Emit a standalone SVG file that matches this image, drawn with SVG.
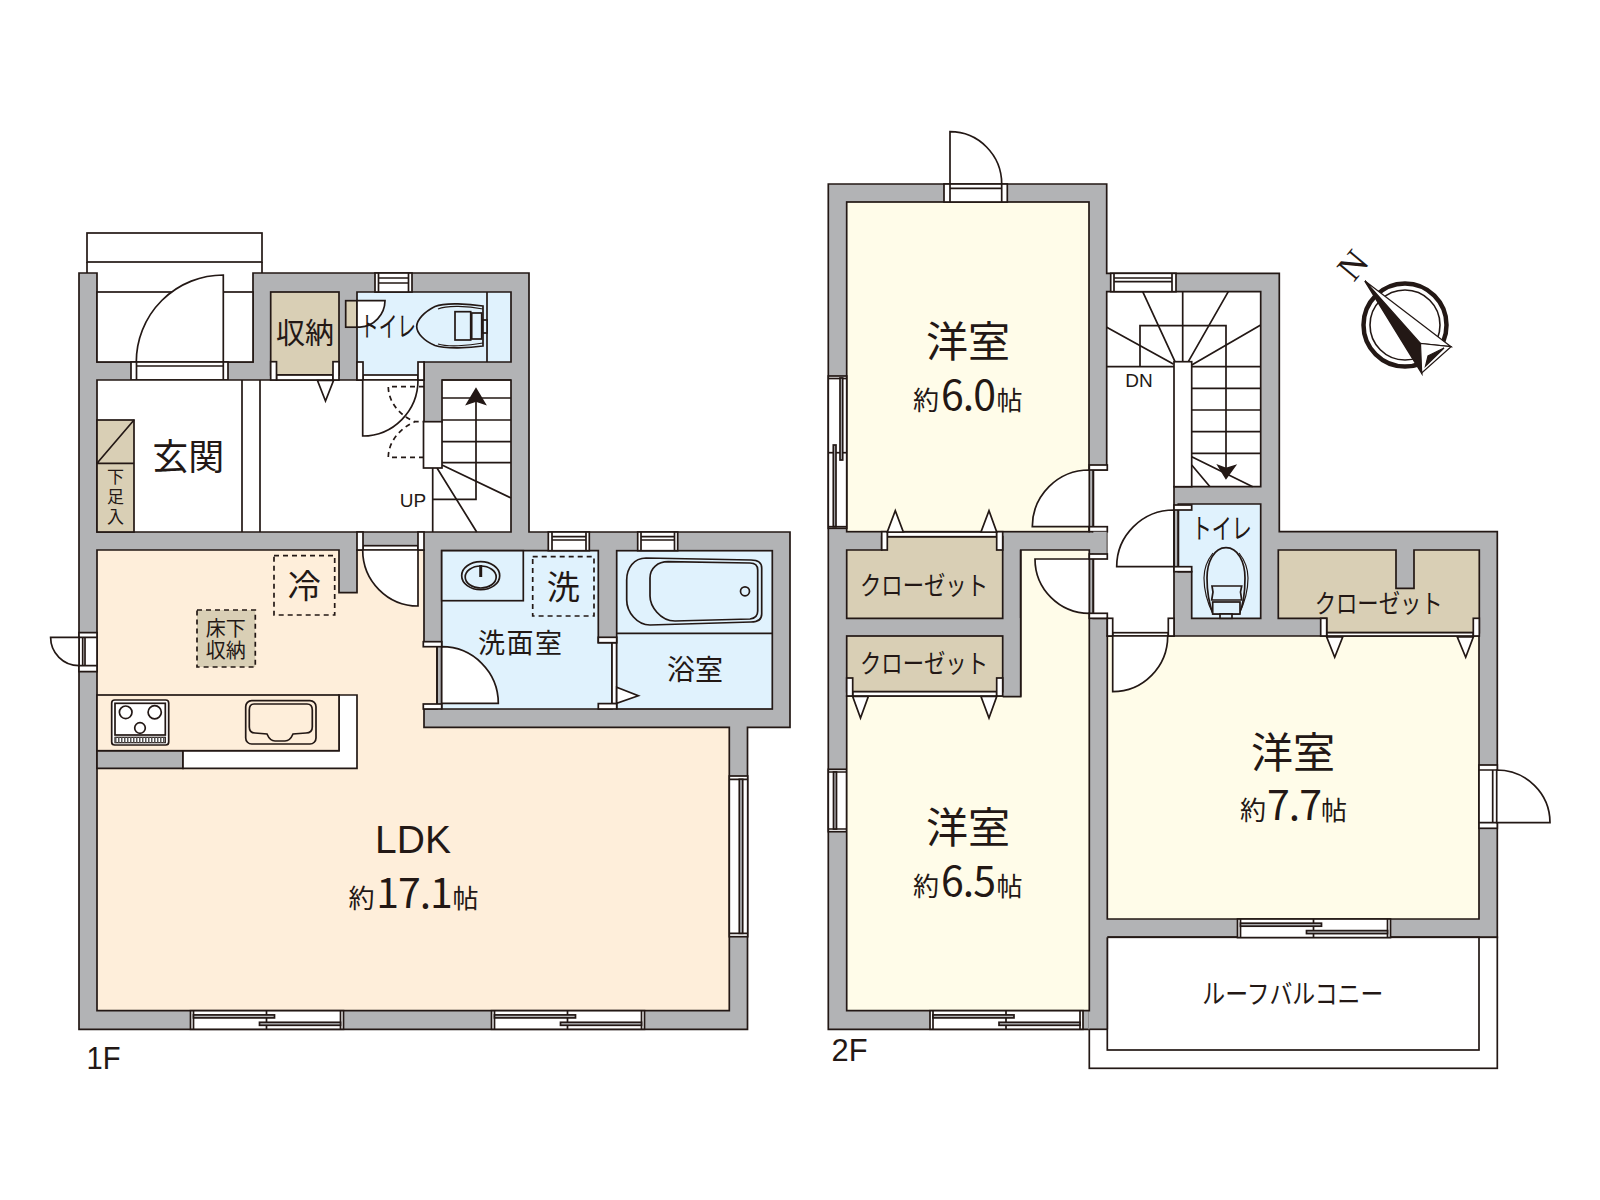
<svg xmlns="http://www.w3.org/2000/svg" xmlns:xlink="http://www.w3.org/1999/xlink" width="1600" height="1200" viewBox="0 0 1600 1200">
<style>
rect,path,circle,ellipse,line,polygon{stroke:#231815;stroke-width:1.7;stroke-linejoin:miter}
.g{fill:#b2b3b5}.w{fill:#fff}.n{fill:none}.t{fill:#d9cfb5}.b{fill:#e0f2fd}.o{fill:#feeeda}.y{fill:#fffce9}
.k{fill:#231815}
.d{fill:none;stroke-dasharray:5 4}
.thin{stroke-width:1.2}
text{font-family:"Noto Sans CJK JP","Noto Sans",sans-serif;fill:#231815;text-anchor:middle}
.s{font-family:"Liberation Sans",Arial,sans-serif}
</style>
<defs>
<g id="slide">
<rect class="w" width="153" height="18.6"/>
<line x1="3" y1="0" x2="3" y2="18.6"/><line x1="150" y1="0" x2="150" y2="18.6"/><line x1="76" y1="0" x2="76" y2="18.6"/>
<rect class="g" x="3" y="4.2" width="81" height="3"/>
<rect class="g" x="69" y="11.6" width="81" height="3"/>
</g>
<g id="tridown"><polygon class="w" points="0,0 16,0 8,20.5"/></g>
</defs>
<g id="floor-1">
<rect class="w" x="87" y="233" width="175" height="29"/>
<path class="n" d="M87,262V273M262,262V273"/>
<path class="g" d="M79,273H97V362H253V273H529V532H790V727.3H747.5V1029.3H79Z"/>
<rect class="w" x="97" y="292" width="156" height="70"/>
<path class="w" d="M223.3,275A87,87 0 0 0 136.3,362H223.3Z"/>
<rect class="w" x="131" y="362" width="97" height="18"/>
<path class="n" d="M136.5,362V380M223.3,362V380M136.5,366H223.3"/>
<path class="w" d="M97,380H424V422H442V380H511V532H97Z"/>
<path class="n" d="M242,380V532M260,380V532"/>
<rect class="t" x="97" y="420" width="37" height="112"/>
<path class="n" d="M97,463.3H134M97,463.3L134,420"/>
<rect class="t" x="270.7" y="292" width="68.3" height="83"/>
<rect class="w" x="276.5" y="375" width="56.5" height="5"/>
<rect class="w" x="270.7" y="361.7" width="5.8" height="18.3"/>
<rect class="w" x="333" y="361.7" width="6" height="18.3"/>
<use xlink:href="#tridown" href="#tridown" x="317.5" y="380.5"/>
<path class="b" d="M357,292H511V362H424V380H357Z"/>
<line x1="487" y1="292" x2="487" y2="362"/>
<rect class="w" x="375" y="273" width="37" height="19"/>
<path class="n" d="M378.5,273V292M408.5,273V292M378.5,278H408.5M378.5,283H408.5"/>
<rect class="t" x="345.7" y="300.7" width="11.3" height="26.5"/>
<path class="w" d="M357,300.7H385A27,27 0 0 1 360,327.2H357Z"/>
<path class="b" d="M483,306C470,304 445,302 435,306.5C424,312 416.7,320 416.7,326.5C416.7,333 424,341 435,345.5C445,349 470,348 483,346Z"/>
<path class="n thin" d="M483,309C468,306 447,305 438,309M483,343C468,346 447,347 438,344"/>
<rect class="b" x="455" y="311.7" width="15.7" height="28.3"/>
<rect class="b" x="471.7" y="313" width="10" height="26"/>
<rect class="b" x="483" y="320" width="4" height="13"/>
<rect class="w" x="363" y="375" width="55" height="5"/>
<rect class="w" x="357" y="362" width="6" height="18"/>
<rect class="w" x="418" y="362" width="6" height="18"/>
<path class="w" d="M362.7,380V436A55.3,56 0 0 0 418,380Z"/>
<path class="d" d="M424,386.7H388.3C388.3,402 400,416 415,421.7H424M424,457.3H388.3C388.3,442 400,428 415,421.7"/>
<path class="n" d="M442,380H511M442,398H511M442,420H511M442,441.7H511M442,462.7H511"/>
<path class="n" d="M442,465L511,498M437,468L476.7,532M432.7,468V532"/>
<path class="n" d="M432.7,499.3H476V395"/>
<polygon class="k" points="476,389 485,404 476,401 467,404"/>
<rect class="w" x="423.5" y="421.7" width="18.5" height="46.3"/>
<path class="o" d="M97,550H339V592.7H357V550H424V642H437V709H424V727.3H729.3V1010.7H97Z"/>
<rect class="w" x="363" y="545.7" width="55" height="4.5"/>
<rect class="w" x="357" y="532" width="6" height="18"/>
<rect class="w" x="418" y="532" width="6" height="18"/>
<path class="w" d="M418,550V606A55.3,56 0 0 1 362.7,550Z"/>
<path class="g" d="M97,750.7H183V768.3H97Z"/>
<path class="w" d="M183,750.7H339V695H357V768.3H183Z"/>
<rect class="o" x="97" y="695" width="242" height="55.7"/>
<rect class="w" x="111.7" y="700" width="57" height="45" rx="3"/>
<rect class="w" x="115" y="703.3" width="50.3" height="31.7"/>
<circle class="n" cx="125.7" cy="712.3" r="6.3"/>
<circle class="n" cx="154.7" cy="712.3" r="6.6"/>
<circle class="n" cx="140" cy="728" r="5.3"/>
<rect class="w thin" x="115" y="737.3" width="50.3" height="5.4"/>
<line x1="115" y1="740" x2="165.3" y2="740" style="stroke-dasharray:1.5 1.5;stroke-width:5.4;stroke:#555"/>
<rect class="o" x="245.7" y="700.7" width="70.3" height="43.3" rx="6"/>
<path class="o" d="M254,704H307Q312.3,704 312.3,710V727Q312.3,733 306,733L293,734Q290,741 285,741H275Q270,741 267,734L255,733Q249.3,733 249.3,727V710Q249.3,704 254,704Z"/>
<rect class="d" x="274" y="555.7" width="60.7" height="59.3"/>
<rect class="t" x="197" y="610" width="58.3" height="57" style="stroke-dasharray:5 4"/>
<path class="w" d="M79,632.7H97V671.7H79Z"/>
<path class="n" d="M79,637.3H97M79,665.7H97M82.7,637.3V665.7M85,637.3V665.7"/>
<path class="w" d="M50.6,637.3H79V665.7A28.4,28.4 0 0 1 50.6,637.3Z"/>
<rect class="w" x="729.3" y="776" width="18.4" height="160.7"/>
<path class="n" d="M729.3,779.3H747.7M729.3,933.3H747.7"/>
<rect class="g" x="739.3" y="779.3" width="3.4" height="154"/>
<use xlink:href="#slide" href="#slide" x="190.5" y="1010.7"/>
<use xlink:href="#slide" href="#slide" x="491.5" y="1010.7"/>
<path class="b" d="M441.7,550.7H598.3V642.7H612V709H441.7Z"/>
<rect class="b" x="441.7" y="550.7" width="81.6" height="50"/>
<ellipse class="n" cx="480.7" cy="575.7" rx="19" ry="14"/>
<ellipse class="n" cx="480.7" cy="577" rx="15.5" ry="11"/>
<line x1="480.7" y1="565" x2="480.7" y2="577" style="stroke-width:3"/>
<rect class="d" x="532.7" y="556.7" width="61.3" height="59.3"/>
<path class="w" d="M441.7,646.7A56.6,56.6 0 0 1 498.3,703.3H441.7Z"/>
<rect class="w" x="423.3" y="641.7" width="18.4" height="5"/>
<rect class="w" x="423.3" y="704" width="18.4" height="5"/>
<line x1="437" y1="646.7" x2="437" y2="704"/>
<rect class="w" x="612" y="642.7" width="4.7" height="61"/>
<rect class="b" x="616.7" y="550.7" width="155.6" height="158.3"/>
<line x1="616.7" y1="633.3" x2="772.3" y2="633.3"/>
<path class="n" d="M646,558L751,560Q761.7,560 761.7,568V614Q761.7,622 751,622L650,625C637,625 626.7,612 626.7,600V580C626.7,568 634,558 646,558Z"/>
<path class="n" d="M668,561.7L750,563Q757.7,563 757.7,570V611Q757.7,618 750,619L675,621C660,621 650,606 650,596V578C650,568 658,561.7 668,561.7Z"/>
<circle class="n" cx="745" cy="591.3" r="4.5"/>
<rect class="w" x="598.3" y="637.3" width="18.4" height="5.4"/>
<rect class="w" x="598.3" y="703.6" width="18.4" height="5.4"/>
<polygon class="w" points="616.7,687.3 638.3,695.7 616.7,703.3"/>
<rect class="w" x="548.3" y="532" width="41" height="18.7"/>
<path class="n" d="M552,532V550.7M586,532V550.7M552,536.7H586M552,540H586"/>
<rect class="w" x="637.7" y="532" width="40" height="18.7"/>
<path class="n" d="M641,532V550.7M674.5,532V550.7M641,536.7H674.5M641,540H674.5"/>
<text x="305" y="343.5" font-size="29">収納</text>
<text x="388" y="337" font-size="28" textLength="56" lengthAdjust="spacingAndGlyphs">トイレ</text>
<text x="188.3" y="470" font-size="36">玄関</text>
<text x="115.5" y="498" font-size="17" style="writing-mode:vertical-rl;letter-spacing:3px">下足入</text>
<text font-size="20"><tspan x="225.7" y="635.5">床下</tspan><tspan x="225.7" y="657.5">収納</tspan></text>
<text class="s" x="413" y="507" font-size="19">UP</text>
<text x="304.3" y="598" font-size="33">冷</text>
<text x="563.3" y="598.5" font-size="33">洗</text>
<text x="520" y="653" font-size="27" textLength="84">洗面室</text>
<text x="695" y="680" font-size="28">浴室</text>
<text class="s" x="413" y="853" font-size="39">LDK</text>
<text font-size="26" y="908"><tspan x="361.5">約</tspan><tspan x="414" font-size="41" letter-spacing="-1">17.1</tspan><tspan x="465.5">帖</tspan></text>
<text class="s" x="103.5" y="1069" font-size="32" textLength="34" lengthAdjust="spacingAndGlyphs">1F</text>
</g>
<g id="floor-2">
<path class="g" d="M828.3,184H1106.7V273.3H1279.3V531.7H1497.3V937.3H1107.3V1029.3H828.3Z"/>
<rect class="w" x="1089.3" y="937.3" width="408" height="131"/>
<rect class="w" x="1107.3" y="937.3" width="371.7" height="112.7"/>
<path class="g" d="M1088.4,935H1107.3V1029.3H1088.4Z" style="stroke:none"/>
<line x1="1089.3" y1="1029.3" x2="1107.3" y2="1029.3"/>
<line x1="1107.3" y1="937.3" x2="1107.3" y2="1029.3"/>
<rect class="y" x="846.7" y="202" width="242.3" height="329.7"/>
<path class="w" d="M950,184V131.7A51.7,52.3 0 0 1 1001.7,184Z"/>
<rect class="w" x="944" y="184" width="63.3" height="18"/>
<path class="n" d="M950,184V202M1001.7,184V202M950,188.3H1001.7"/>
<rect class="w" x="828.3" y="376" width="18.4" height="152.3"/>
<line x1="828.3" y1="378.5" x2="846.7" y2="378.5"/>
<line x1="828.3" y1="452.7" x2="846.7" y2="452.7"/>
<rect class="g" x="840" y="378" width="2.7" height="82"/>
<rect class="g" x="833.3" y="445" width="2.7" height="81.7"/>
<line x1="828.3" y1="526.7" x2="846.7" y2="526.7"/>
<rect class="w" x="828.3" y="769.3" width="18.4" height="62.4"/>
<path class="n" d="M828.3,772H846.7M828.3,829H846.7"/>
<rect class="g" x="833.5" y="772" width="3" height="57"/>
<path class="y" d="M1020.7,550H1089.3V1010.7H846.7V696H1020.7Z"/>
<rect class="g" x="1002.7" y="618" width="18" height="78.7" style="stroke:none"/>
<path class="n" d="M1020.7,550V696.7H1002.7"/>
<path class="t" d="M846.7,550H881.7V536.7H1002.7V618.3H846.7Z"/>
<rect class="w" x="887.3" y="532" width="109.4" height="4.7"/>
<rect class="w" x="881.7" y="531.7" width="5.6" height="18.3"/>
<rect class="w" x="996.7" y="531.7" width="6" height="18.3"/>
<polygon class="w" points="887.3,532 903.3,532 895.3,510.7"/>
<polygon class="w" points="981,532 996.7,532 989,510.7"/>
<rect class="t" x="846.7" y="636" width="156" height="55.7"/>
<rect class="w" x="852.7" y="691.7" width="144" height="4.3"/>
<rect class="w" x="846.7" y="678" width="6" height="18"/>
<rect class="w" x="996.7" y="678" width="6" height="18"/>
<polygon class="w" points="852.7,696.5 868.3,696.5 860.5,718"/>
<polygon class="w" points="981,696.5 996.7,696.5 989,718"/>
<path class="y" d="M1107.3,636H1479V919H1107.3Z"/>
<path class="w" d="M1106.7,291.7H1260.7V486.7H1174V636H1107.3V618.3H1093.3V554H1106.7V531.7H1093.3V470H1106.7Z"/>
<path class="w" d="M1089.3,470A57,56.7 0 0 0 1032.3,526.7H1089.3Z"/>
<rect class="w" x="1089.3" y="465" width="18" height="5"/>
<rect class="w" x="1089.3" y="526.7" width="18" height="5"/>
<line x1="1093.3" y1="470" x2="1093.3" y2="526.7"/>
<path class="g" d="M1093.3,531.7H1106.7V554H1093.3Z" style="stroke:none"/>
<path class="w" d="M1089.3,559H1035A54.3,54.3 0 0 0 1089.3,613.3Z"/>
<rect class="w" x="1089.3" y="554" width="18" height="5"/>
<rect class="w" x="1089.3" y="613.3" width="18" height="5"/>
<line x1="1093.3" y1="559" x2="1093.3" y2="613.3"/>
<rect class="w" x="1112.7" y="632.7" width="55.6" height="3.3"/>
<rect class="w" x="1107.3" y="618.3" width="5.4" height="17.7"/>
<rect class="w" x="1168.3" y="618.3" width="5.7" height="17.7"/>
<path class="w" d="M1112.7,636V691.7A55,55.7 0 0 0 1167.7,636Z"/>
<path class="b" d="M1178.3,504H1260.7V618.3H1191.7V571.7H1178.3Z"/>
<path class="w" d="M1174,510A57.3,56.7 0 0 0 1116.7,566.7H1174Z"/>
<rect class="w" x="1174" y="505" width="17.7" height="5"/>
<rect class="w" x="1174" y="566.7" width="17.7" height="5"/>
<path class="n" d="M1174,510V566.7M1178.3,510V566.7"/>
<path class="n" d="M1226,547.7C1214,547.7 1207,562 1207,578C1207,592 1210,606 1213,614H1239C1243,606 1245,592 1245,578C1245,562 1238,547.7 1226,547.7Z"/>
<path class="n thin" d="M1213,614C1206,600 1204,588 1204,578C1204,566 1209,558 1213,553M1239,614C1246,600 1248,588 1248,578C1248,566 1243,558 1239,553"/>
<path class="b" d="M1212,586H1241.7L1240.5,592L1241.7,600H1211.7L1213,592Z"/>
<rect class="b" x="1212.7" y="602" width="27.3" height="12"/>
<rect class="b" x="1220" y="614" width="12" height="4.3"/>
<path class="t" d="M1278.3,550H1396V588.3H1414V550H1479.3V632.7H1326.7V618.3H1278.3Z"/>
<rect class="w" x="1326.7" y="632.7" width="146.6" height="3.3"/>
<rect class="w" x="1320.7" y="618.3" width="6" height="17.7"/>
<rect class="w" x="1473.3" y="618.3" width="6" height="17.7"/>
<polygon class="w" points="1326.7,637 1342.7,637 1334.7,657.3"/>
<polygon class="w" points="1457.3,637 1473.3,637 1465.7,657.3"/>
<rect class="w" x="1479" y="765" width="18.3" height="63.3"/>
<path class="n" d="M1479,770H1497.3M1479,822.7H1497.3M1492.7,770V822.7"/>
<path class="w" d="M1496.7,822.7V770A53.3,52.7 0 0 1 1550,822.7Z"/>
<use xlink:href="#slide" href="#slide" x="930" y="1010.7"/>
<use xlink:href="#slide" href="#slide" x="1237.5" y="919"/>
<rect class="w" x="1110.7" y="273.3" width="65.3" height="18.4"/>
<path class="n" d="M1114,273.3V291.7M1172,273.3V291.7M1114,278H1172M1114,281.7H1172"/>
<path class="n" d="M1106.7,366.7H1174M1191.7,366.7H1260.7M1191.7,388.3H1260.7M1191.7,410H1260.7M1191.7,431.7H1260.7M1191.7,453.3H1260.7"/>
<path class="n" d="M1140,366.7V325.7H1226V473"/>
<path class="n" d="M1182.7,291.7V361.7M1142.7,291.7L1175,361.7M1228.3,291.7L1188.3,361.7M1106.7,327.3L1173.3,364M1260.7,325L1191.7,365M1191.7,456.7L1252.7,486.7M1191.7,465L1210,486.7"/>
<polygon class="k" points="1226,478.3 1218.3,465.7 1226,468.5 1235,465.7"/>
<rect class="w" x="1174" y="361.7" width="17.7" height="125"/>
<text x="968" y="357" font-size="42">洋室</text>
<text font-size="26" y="410"><tspan x="926">約</tspan><tspan x="968" font-size="41" letter-spacing="-1">6.0</tspan><tspan x="1009.5">帖</tspan></text>
<text x="968" y="843" font-size="42">洋室</text>
<text font-size="26" y="895.5"><tspan x="926">約</tspan><tspan x="968" font-size="41" letter-spacing="-1">6.5</tspan><tspan x="1009.5">帖</tspan></text>
<text x="1293" y="768" font-size="42">洋室</text>
<text font-size="26" y="820"><tspan x="1253">約</tspan><tspan x="1294" font-size="41" letter-spacing="-1">7.7</tspan><tspan x="1334">帖</tspan></text>
<text x="924" y="595" font-size="26" textLength="128" lengthAdjust="spacingAndGlyphs">クローゼット</text>
<text x="924" y="673" font-size="26" textLength="128" lengthAdjust="spacingAndGlyphs">クローゼット</text>
<text x="1378.7" y="613" font-size="26" textLength="128" lengthAdjust="spacingAndGlyphs">クローゼット</text>
<text x="1221.7" y="539" font-size="28" textLength="60" lengthAdjust="spacingAndGlyphs">トイレ</text>
<text x="1292.8" y="1003.5" font-size="27" textLength="181" lengthAdjust="spacingAndGlyphs">ルーフバルコニー</text>
<text class="s" x="1139" y="387" font-size="19">DN</text>
<text class="s" x="849.5" y="1061" font-size="32" textLength="36" lengthAdjust="spacingAndGlyphs">2F</text>
</g>
<g id="compass">
<circle class="w" cx="1405" cy="325" r="41.5" style="stroke-width:4.5"/>
<circle class="n" cx="1405" cy="325" r="35" style="stroke-width:1.6"/>
<polygon class="k" points="1365,281 1420.5,343.5 1421.7,373"/>
<polygon class="w thin" points="1365,281 1451,346.7 1420.5,343.5"/>
<polygon class="w thin" points="1451,346.7 1421.7,373 1420.5,343.5"/>
<polygon class="k thin" points="1444,348 1428,356 1425.5,366"/>
<text font-size="36" transform="translate(1353 265) rotate(-50) translate(0 12)" style="font-family:'Liberation Serif',serif">N</text>
</g>
</svg>
